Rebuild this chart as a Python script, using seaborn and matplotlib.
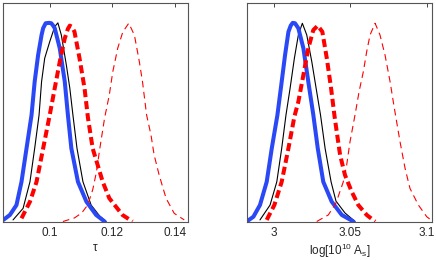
import numpy as np
import pandas as pd
import matplotlib
matplotlib.use("Agg")
import matplotlib.pyplot as plt
import seaborn as sns

# ---- data (normalised posteriors) ----
# tau panel
tau_blue_x = [0.0852, 0.0873, 0.0894, 0.0910, 0.0926, 0.0942, 0.0952, 0.0963, 0.0974, 0.0979, 0.0987,
              0.0998, 0.1005, 0.1011, 0.1016, 0.1032, 0.1048, 0.1058, 0.1069, 0.1090, 0.1117, 0.1148, 0.1175]
tau_blue_y = [0.008, 0.033, 0.083, 0.200, 0.368, 0.536, 0.704, 0.838, 0.939, 0.973, 0.998,
              1.0, 0.998, 0.986, 0.973, 0.872, 0.704, 0.536, 0.368, 0.200, 0.100, 0.033, 0.0]
tau_black_x = [0.0883, 0.0915, 0.0937, 0.0952, 0.0966, 0.0974, 0.0984, 0.1000, 0.1016, 0.1026,
               0.1037, 0.1053, 0.1064, 0.1074, 0.1087, 0.1106, 0.1132, 0.1159, 0.1180]
tau_black_y = [0.008, 0.066, 0.200, 0.368, 0.536, 0.704, 0.822, 0.905, 0.981, 1.0,
               0.939, 0.788, 0.672, 0.536, 0.368, 0.200, 0.083, 0.028, 0.0]
tau_red_x = [0.0910, 0.0937, 0.0958, 0.0979, 0.1000, 0.1016, 0.1032, 0.1048, 0.1058, 0.1064, 0.1071,
             0.1079, 0.1095, 0.1111, 0.1122, 0.1137, 0.1153, 0.1169, 0.1190, 0.1232, 0.1264]
tau_red_y = [0.016, 0.100, 0.200, 0.368, 0.536, 0.671, 0.804, 0.922, 0.970, 0.986, 0.980,
             0.955, 0.822, 0.671, 0.521, 0.368, 0.284, 0.200, 0.117, 0.033, 0.0]
tau_thin_x = [0.1042, 0.1079, 0.1102, 0.1121, 0.1137, 0.1149, 0.1159, 0.1175, 0.1190, 0.1201, 0.1217,
              0.1233, 0.1252, 0.1270, 0.1286, 0.1296, 0.1309, 0.1323, 0.1333, 0.1349, 0.1371,
              0.1397, 0.1429]
tau_thin_y = [0.0, 0.018, 0.043, 0.083, 0.159, 0.249, 0.360, 0.521, 0.637, 0.753, 0.873,
              0.954, 0.998, 0.939, 0.803, 0.702, 0.536, 0.435, 0.335, 0.234, 0.117,
              0.041, 0.008]

# log(10^10 A_s) panel
as_blue_x = [2.9821, 2.9865, 2.9908, 2.9952, 2.9985, 3.0022, 3.0050, 3.0072, 3.0094, 3.0109, 3.0122,
             3.0137, 3.0159, 3.0192, 3.0224, 3.0257, 3.0286, 3.0322, 3.0377, 3.0443, 3.0519]
as_blue_y = [0.0, 0.024, 0.083, 0.200, 0.368, 0.536, 0.704, 0.838, 0.955, 0.986, 1.0,
             0.998, 0.973, 0.872, 0.704, 0.536, 0.368, 0.200, 0.100, 0.033, 0.0]
as_black_x = [2.9908, 2.9974, 3.0018, 3.0050, 3.0078, 3.0105, 3.0133, 3.0159, 3.0185, 3.0214,
              3.0247, 3.0279, 3.0304, 3.0334, 3.0373, 3.0405, 3.0464, 3.0530]
as_black_y = [0.008, 0.083, 0.200, 0.368, 0.536, 0.671, 0.822, 0.939, 0.998, 0.939,
              0.804, 0.653, 0.536, 0.368, 0.200, 0.103, 0.043, 0.0]
as_red_x = [2.9952, 3.0002, 3.0050, 3.0094, 3.0133, 3.0159, 3.0192, 3.0224, 3.0257, 3.0286,
            3.0316, 3.0345, 3.0373, 3.0396, 3.0410, 3.0432, 3.0464, 3.0508, 3.0551, 3.0606, 3.0661]
as_red_y = [0.008, 0.083, 0.200, 0.368, 0.528, 0.603, 0.738, 0.872, 0.964, 0.986,
            0.955, 0.822, 0.671, 0.528, 0.452, 0.335, 0.234, 0.150, 0.083, 0.033, 0.0]
as_thin_x = [3.0279, 3.0355, 3.0405, 3.0453, 3.0475, 3.0497, 3.0532, 3.0556, 3.0584, 3.0606, 3.0628,
             3.0661, 3.0693, 3.0726, 3.0759, 3.0787, 3.0824, 3.0857, 3.0889, 3.0944, 3.0999, 3.1040]
as_thin_y = [0.0, 0.033, 0.093, 0.200, 0.284, 0.402, 0.546, 0.653, 0.754, 0.855, 0.939,
             0.998, 0.939, 0.838, 0.704, 0.570, 0.402, 0.268, 0.167, 0.083, 0.024, 0.0]

sns.set_style("white")
plt.rcParams['font.family'] = ['Liberation Sans', 'DejaVu Sans']
plt.rcParams['mathtext.default'] = 'regular'

fig = plt.figure(figsize=(4.36, 2.60), dpi=100)
ax1 = fig.add_axes([3 / 436, 1 - 221.5 / 260, 185 / 436, 218.5 / 260])
ax2 = fig.add_axes([247.3 / 436, 1 - 221.5 / 260, 184.2 / 436, 218.5 / 260])

blue = '#2a48f5'
red = '#ff0000'

panels = [
    (ax1, (tau_black_x, tau_black_y), (tau_blue_x, tau_blue_y), (tau_red_x, tau_red_y), (tau_thin_x, tau_thin_y)),
    (ax2, (as_black_x, as_black_y), (as_blue_x, as_blue_y), (as_red_x, as_red_y), (as_thin_x, as_thin_y)),
]
for ax, blk, blu, rd, thn in panels:
    sns.lineplot(x=blk[0], y=blk[1], ax=ax, color='black', linewidth=0.8, sort=False)
    sns.lineplot(x=blu[0], y=blu[1], ax=ax, color=blue, linewidth=2.9, sort=False)
    sns.lineplot(x=rd[0], y=rd[1], ax=ax, color=red, linewidth=2.9, linestyle=(0, (2, 1)), sort=False)
    sns.lineplot(x=thn[0], y=thn[1], ax=ax, color=red, linewidth=0.8, linestyle=(0, (6, 4)), sort=False)
    ax.set_ylim(0, 1.1)
    ax.set_yticks([])
    ax.set_ylabel('')
    ax.tick_params(axis='x', direction='in', top=True, length=3, width=0.6, labelsize=8.5, pad=4)
    for s in ax.spines.values():
        s.set_color('#555555')
        s.set_linewidth(0.8)

ax1.set_xlim(0.0851, 0.1441)
ax1.set_xticks([0.1, 0.12, 0.14])
ax1.set_xticklabels(['0.1', '0.12', '0.14'])
ax1.set_xlabel('τ', fontsize=8.5, labelpad=2)

ax2.set_xlim(2.9825, 3.103)
ax2.set_xticks([3, 3.05, 3.1])
ax2.set_xticklabels(['3', '3.05', '3.1'])
ax2.set_xlabel(r'log[10$^{10}$ A$_s$]', fontsize=8.5, labelpad=2)

fig.savefig('out.png', dpi=100)
